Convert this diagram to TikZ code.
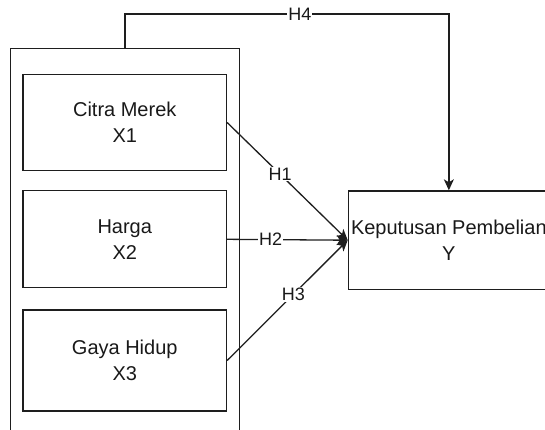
\documentclass[tikz,border=0pt]{standalone}
\usepackage{fontspec}
\setmainfont{Liberation Sans}
\usetikzlibrary{arrows.meta}
\definecolor{ink}{RGB}{30,30,30}
\definecolor{txt}{RGB}{25,25,25}
\begin{document}
\begin{tikzpicture}[x=1pt,y=-1pt,
  box/.style={draw=ink,line width=1.3pt,rectangle,inner sep=0pt,align=center,
    text=txt,font=\fontsize{20}{26}\selectfont},
  conn/.style={draw=ink,line width=1.3pt},
  arr/.style={conn,-{Stealth[length=11pt,width=10pt,inset=3pt]}},
  lab/.style={fill=white,inner sep=1pt,text=txt,font=\fontsize{18}{20}\selectfont}]
\useasboundingbox (0,0) rectangle (545,429);
% outer group
\node[box,anchor=north west,minimum width=229.3pt,minimum height=400pt] (outer) at (9.7,48) {};
% independent variables
\node[box,minimum width=203.5pt,minimum height=96pt] (x1) at (124.75,122.5) {Citra Merek\\X1};
\node[box,minimum width=203.5pt,minimum height=97pt] (x2) at (124.75,239.3) {Harga\\X2};
\node[box,minimum width=203.5pt,minimum height=101pt] (x3) at (124.75,360.5) {Gaya Hidup\\X3};
% dependent variable
\node[box,anchor=north west,minimum width=201pt,minimum height=98.5pt] (y) at (347.7,190.3) {Keputusan Pembelian\\Y};
% connectors
\draw[arr] (x1.east) -- node[lab,pos=0.44]{H1} (y.west);
\draw[arr] (x2.east) -- node[lab,pos=0.36]{H2} (y.west);
\draw[arr] (x3.east) -- node[lab,pos=0.55]{H3} (y.west);
\coordinate (c1) at (outer.north |- 0,14);
\coordinate (c2) at (y.north |- 0,14);
\draw[arr] (outer.north) -- (c1) -- node[lab,pos=0.54]{H4} (c2) -- (y.north);
\end{tikzpicture}
\end{document}
